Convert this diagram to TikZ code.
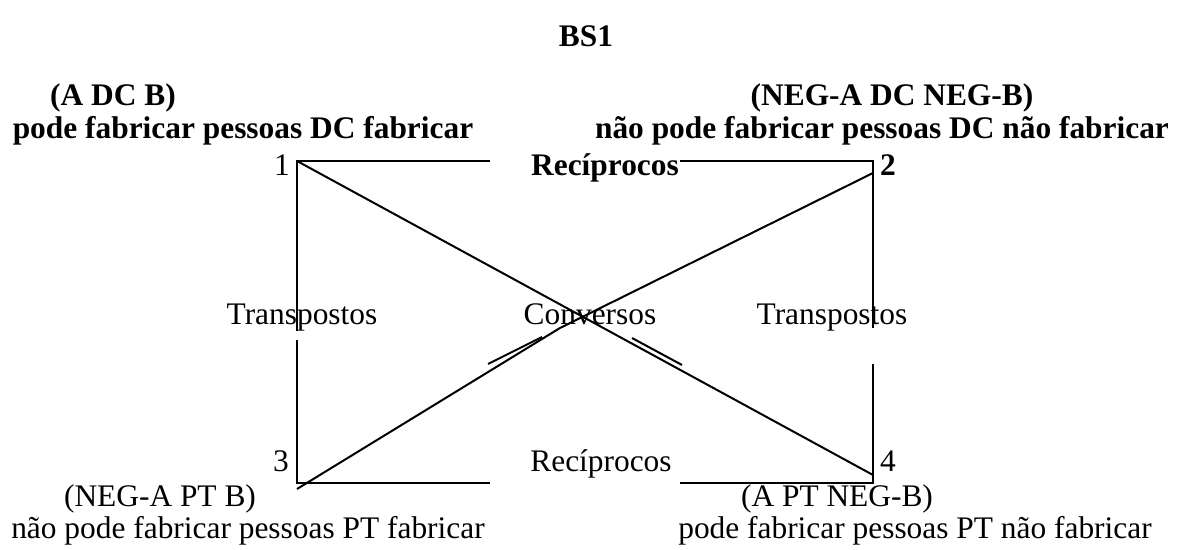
\documentclass[tikz,border=0pt]{standalone}
\usepackage{fontspec}
\setmainfont{Liberation Serif}

\begin{document}
\begin{tikzpicture}[x=0.5pt, y=-0.5pt, line width=1pt,
  every node/.style={inner sep=0pt, outer sep=0pt, anchor=base, font=\fontsize{15.7}{18}\selectfont},
  bold/.style={font=\fontsize{15.7}{18}\selectfont\bfseries}]
\useasboundingbox (0,0) rectangle (1180,550);

\node[bold] (bs) at (586,47) {BS1};
\node[bold] (dcab) at (113,106) {(A DC B)};
\node[bold] (dcabtxt) at (243,139) {pode fabricar pessoas DC fabricar};
\node[bold] (dcneg) at (892,106) {(NEG-A DC NEG-B)};
\node[bold] (dcnegtxt) at (882,139) {não pode fabricar pessoas DC não fabricar};
\node[bold] (rectop) at (605,176) {Recíprocos};
\node (num1) at (282,176) {1};
\node[bold] (num2) at (888,176) {2};

\node (transl) at (302,325) {Transpostos};
\node (conv) at (590,325) {Conversos};
\node (transr) at (832,325) {Transpostos};

\node (num3) at (281,472) {3};
\node (num4) at (888,472) {4};
\node (recbot) at (601,472) {Recíprocos};
\node (ptneg) at (160,507) {(NEG-A PT B)};
\node (ptnegtxt) at (248,539) {não pode fabricar pessoas PT fabricar};
\node (ptab) at (837,507) {(A PT NEG-B)};
\node (ptabtxt) at (915,539) {pode fabricar pessoas PT não fabricar};

\coordinate (c1) at (297,161);
\coordinate (c2) at (873,161);
\coordinate (c3) at (297,483);
\coordinate (c4) at (873,483);
\coordinate (t1) at (490,161);
\coordinate (t2) at (680,161);
\coordinate (b1) at (490,483);
\coordinate (b2) at (680,483);
\coordinate (v1a) at (297,331);
\coordinate (v1b) at (297,340);
\coordinate (v2a) at (873,328);
\coordinate (v2b) at (873,364);
\coordinate (d2) at (873,173);
\coordinate (d3) at (297,489);
\coordinate (d4) at (873,475);
\coordinate (mid) at (560,328);
\coordinate (e1) at (488,364);
\coordinate (e2) at (542,337);
\coordinate (e3) at (632,338);
\coordinate (e4) at (682,365);

\draw (v1a) -- (c1) -- (t1);
\draw (t2) -- (c2) -- (v2a);
\draw (v2b) -- (c4) -- (b2);
\draw (b1) -- (c3) -- (v1b);
\draw (c1) -- (d4);
\draw (d3) -- (mid) -- (d2);
\draw (e1) -- (e2);
\draw (e3) -- (e4);
\end{tikzpicture}
\end{document}
